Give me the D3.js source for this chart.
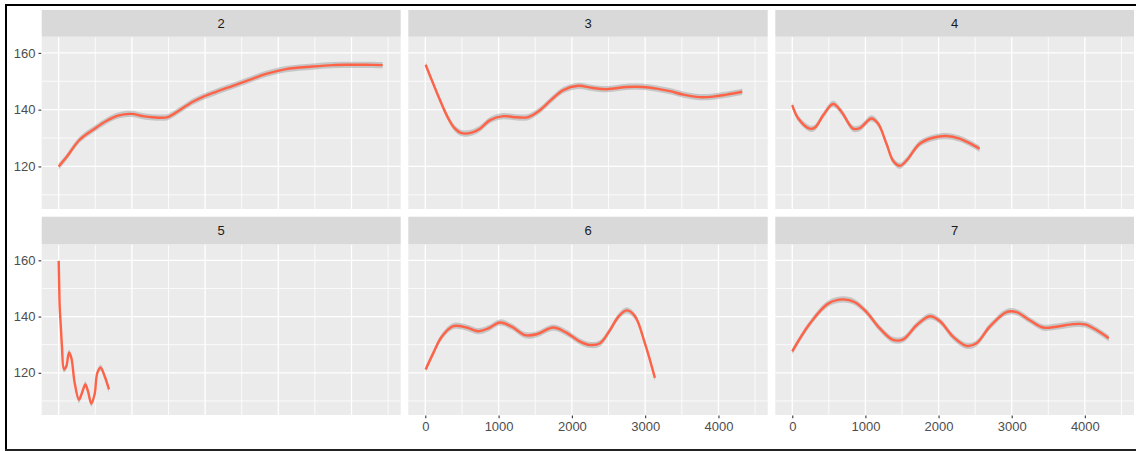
<!DOCTYPE html>
<html>
<head>
<meta charset="utf-8">
<script src="https://cdn.jsdelivr.net/npm/d3@7"></script>
<style>
  html, body { margin: 0; padding: 0; background: #fff; }
  svg { display: block; font-family: "Liberation Sans", Arial, sans-serif; }
</style>
</head>
<body>
<svg id="chart" width="1136" height="451"></svg>
<script>
// Facet labels, in panel order (row-major, 3 columns)
const facets = ["2", "3", "4", "5", "6", "7"];

// Smoothed series per facet: x positions and fitted values
const x2 = [0, 105, 286, 491, 650, 810, 991, 1150, 1287, 1491, 1651, 1833, 1979, 2151, 2379, 2606, 2834, 3106, 3470, 3743, 3970, 4198, 4425];
const y2 = [120, 123.2, 129.4, 133.3, 136, 137.9, 138.5, 137.7, 137.3, 137.4, 139.8, 142.8, 144.6, 146.3, 148.4, 150.5, 152.6, 154.3, 155.2, 155.7, 155.8, 155.8, 155.7];

const x3 = [5, 87, 200, 314, 405, 497, 633, 746, 883, 1064, 1247, 1405, 1565, 1725, 1883, 2087, 2270, 2475, 2748, 2974, 3157, 3338, 3520, 3747, 3929, 4112, 4325];
const y3 = [155.8, 150.5, 143.4, 136.9, 133.3, 131.7, 131.9, 133.3, 136.3, 137.7, 137.3, 137.4, 139.8, 143.6, 146.9, 148.4, 147.7, 147.2, 148, 148, 147.4, 146.5, 145.3, 144.4, 144.6, 145.3, 146.3];

const x4 = [0, 82, 241, 310, 423, 559, 674, 832, 924, 1083, 1173, 1288, 1378, 1469, 1560, 1742, 1924, 2106, 2288, 2424, 2561];
const y4 = [141.6, 136.9, 133.3, 133.7, 138, 142, 139.2, 133.3, 133.5, 136.9, 135.1, 128, 122, 120.2, 122, 128, 130.1, 130.7, 129.8, 128.2, 126.2];

const x5 = [0, 5, 14, 27, 45, 72, 105, 140, 173, 218, 277, 323, 364, 400, 446, 491, 528, 573, 628, 687];
const y5 = [159.8, 153.9, 143.4, 137.5, 129.3, 121.2, 122.3, 127.2, 125.3, 116.5, 110.4, 113.2, 115.9, 113.5, 109.1, 112.4, 120, 121.8, 118.8, 114.1];

const x6 = [5, 109, 224, 382, 565, 723, 860, 1019, 1179, 1360, 1520, 1746, 1929, 2111, 2247, 2383, 2520, 2633, 2748, 2861, 2997, 3133];
const y6 = [121.2, 127, 132.8, 136.6, 136.1, 134.8, 135.8, 137.9, 136.4, 133.4, 133.7, 136.1, 134.2, 131.1, 129.9, 130.5, 135.2, 139.9, 142.2, 140.1, 130.5, 118.2];

const x7 = [0, 241, 491, 696, 856, 1015, 1197, 1379, 1516, 1699, 1881, 2017, 2200, 2382, 2518, 2700, 2929, 3065, 3247, 3429, 3612, 3839, 3999, 4159, 4327];
const y7 = [127.6, 137.5, 144.6, 146.1, 145.1, 141.6, 135.8, 131.7, 131.9, 136.9, 140.1, 138.4, 132.8, 129.6, 130.5, 136.4, 141.6, 141.6, 138.7, 136.1, 136.4, 137.3, 137.2, 135.2, 132.3];

// Axis breaks
const xMajor = [0, 1000, 2000, 3000, 4000];
const xMinor = [500, 1500, 2500, 3500, 4500];
const yMajor = [120, 140, 160];
const yMinor = [110, 130, 150];
const xLabels = ["0", "1000", "2000", "3000", "4000"];
const yLabels = ["120", "140", "160"];

const seriesX = [x2, x3, x4, x5, x6, x7];
const seriesY = [y2, y3, y4, y5, y6, y7];
const bandHalf = 1.1; // half-width of the confidence ribbon

const svg = d3.select("#chart");

// Panel geometry
const colX = [[41.7, 400.7], [408.3, 767.7], [775.3, 1134]];
const rows = [
  { stripTop: 10, panelTop: 36.7, panelBottom: 209 },
  { stripTop: 216.7, panelTop: 244.3, panelBottom: 415 }
];
const xDomain = [-232, 4672];
const yDomain = [105, 165.7];

const lineColor = "#FF6347";
const gridColor = "#FFFFFF";
const textColor = "#4D4D4D";

facets.forEach((name, i) => {
  const col = i % 3, row = Math.floor(i / 3);
  const [x0, x1] = colX[col];
  const r = rows[row];
  const x = d3.scaleLinear().domain(xDomain).range([x0, x1]);
  const y = d3.scaleLinear().domain(yDomain).range([r.panelBottom, r.panelTop]);
  const g = svg.append("g");

  // panel background
  g.append("rect").attr("x", x0).attr("y", r.panelTop)
    .attr("width", x1 - x0).attr("height", r.panelBottom - r.panelTop)
    .attr("fill", "#EBEBEB");

  // minor grid
  g.selectAll(null).data(xMinor).join("line")
    .attr("x1", d => x(d)).attr("x2", d => x(d))
    .attr("y1", r.panelTop).attr("y2", r.panelBottom)
    .attr("stroke", gridColor).attr("stroke-width", 0.8);
  g.selectAll(null).data(yMinor).join("line")
    .attr("y1", d => y(d)).attr("y2", d => y(d))
    .attr("x1", x0).attr("x2", x1)
    .attr("stroke", gridColor).attr("stroke-width", 0.8);
  // major grid
  g.selectAll(null).data(xMajor).join("line")
    .attr("x1", d => x(d)).attr("x2", d => x(d))
    .attr("y1", r.panelTop).attr("y2", r.panelBottom)
    .attr("stroke", gridColor).attr("stroke-width", 1.3);
  g.selectAll(null).data(yMajor).join("line")
    .attr("y1", d => y(d)).attr("y2", d => y(d))
    .attr("x1", x0).attr("x2", x1)
    .attr("stroke", gridColor).attr("stroke-width", 1.3);

  // strip
  g.append("rect").attr("x", x0).attr("y", r.stripTop)
    .attr("width", x1 - x0).attr("height", r.panelTop - r.stripTop)
    .attr("fill", "#D9D9D9");
  g.append("text").attr("x", (x0 + x1) / 2).attr("y", (r.stripTop + r.panelTop) / 2)
    .attr("dy", "0.36em").attr("text-anchor", "middle")
    .attr("font-size", 13).attr("fill", "#1A1A1A").text(name);

  // smoothed fit with ribbon
  const pts = seriesX[i].map((xv, k) => ({ x: xv, y: seriesY[i][k] }));
  const area = d3.area().curve(d3.curveCatmullRom)
    .x(d => x(d.x)).y0(d => y(d.y - bandHalf)).y1(d => y(d.y + bandHalf));
  g.append("path").datum(pts).attr("d", area)
    .attr("fill", "#999999").attr("fill-opacity", 0.45);
  const line = d3.line().curve(d3.curveCatmullRom)
    .x(d => x(d.x)).y(d => y(d.y));
  g.append("path").datum(pts).attr("d", line)
    .attr("fill", "none").attr("stroke", lineColor).attr("stroke-width", 2.4);

  // y axis on the first column
  if (col === 0) {
    const ya = d3.axisLeft(y).tickValues(yMajor).tickSize(2.7).tickPadding(3)
      .tickFormat((d, k) => yLabels[k]);
    const ag = g.append("g").attr("transform", `translate(${x0 - 0.5},0)`).call(ya);
    ag.select(".domain").remove();
    ag.selectAll(".tick line").attr("stroke", "#333333").attr("stroke-width", 1.1);
    ag.selectAll(".tick text").attr("fill", textColor).attr("font-size", 13)
      .attr("font-family", "Liberation Sans, Arial, sans-serif");
  }
  // x axis on the bottom row, second and third columns
  if (row === 1 && col > 0) {
    const xa = d3.axisBottom(x).tickValues(xMajor).tickSize(2.7).tickPadding(4)
      .tickFormat((d, k) => xLabels[k]);
    const ag = g.append("g").attr("transform", `translate(0,${r.panelBottom + 0.5})`).call(xa);
    ag.select(".domain").remove();
    ag.selectAll(".tick line").attr("stroke", "#333333").attr("stroke-width", 1.1);
    ag.selectAll(".tick text").attr("fill", textColor).attr("font-size", 13)
      .attr("font-family", "Liberation Sans, Arial, sans-serif");
  }
});

// outer frame lines
svg.append("rect").attr("x", 5).attr("y", 4).attr("width", 1131).attr("height", 2).attr("fill", "#000");
svg.append("rect").attr("x", 5).attr("y", 4).attr("width", 2).attr("height", 447).attr("fill", "#000");
svg.append("rect").attr("x", 5).attr("y", 449).attr("width", 1131).attr("height", 2).attr("fill", "#222");
</script>
</body>
</html>
